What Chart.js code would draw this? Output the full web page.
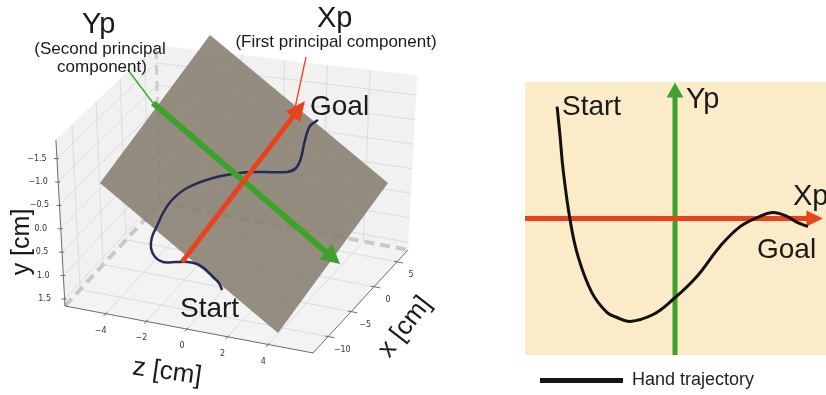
<!DOCTYPE html>
<html>
<head>
<meta charset="utf-8">
<script src="https://cdn.jsdelivr.net/npm/chart.js@4"></script>
<style>
  html, body { margin: 0; padding: 0; background: #ffffff; }
  #wrap { position: relative; width: 826px; height: 395px; }
  #wrap canvas { position: absolute; left: 0; top: 0; }
</style>
</head>
<body>
<div id="wrap">
  <canvas id="view3d" width="826" height="395"></canvas>
  <canvas id="plane2d" width="826" height="395"></canvas>
</div>
<script>
// ---- 3D box: ticks and limits (cm) ----
const zTicks = [-4, -2, 0, 2, 4];
const xTicks = [-10, -5, 0, 5];
const yTicks = [-1.5, -1.0, -0.5, 0.0, 0.5, 1.0, 1.5];
const zLimits = [-6, 6.2];
const xLimits = [-13.3, 7.4];
const yLimits = [-1.9, 1.65];

// ---- hand trajectory as seen in the 3D view (view units) ----
const trajViewX = [222, 219, 213, 205, 197, 188, 176, 163, 155, 151, 152, 157, 163, 172, 187, 213, 240, 263, 287, 296, 301, 305, 310, 318];
const trajViewY = [290, 283, 277, 269, 264, 262, 262, 262, 257, 248, 237, 226, 213, 200, 188, 178, 173, 172, 172, 168, 158, 140, 126, 120];

// fitted principal plane, corners in view units
const planeViewX = [210, 388, 278, 100];
const planeViewY = [35, 183, 333, 183];

// principal component arrows and their label leaders: [x0, y0, x1, y1]
const pc1Arrow = [182, 262, 305, 101];
const pc2Arrow = [153, 103, 340, 264];
const pc1Leader = [306, 57, 295, 108];
const pc2Leader = [128, 70, 153, 103];

// ---- hand trajectory in the principal plane (Xp, Yp) ----
const handXp = [-3.93, -3.83, -3.73, -3.5, -3.23, -2.77, -2.27, -1.93, -1.5, -0.73, -0.07, 0.73, 1.5, 2.17, 2.83, 3.27, 3.73, 4.07, 4.43];
const handYp = [3.73, 2.73, 1.63, -0.03, -1.27, -2.47, -3.13, -3.3, -3.43, -3.2, -2.7, -1.93, -0.93, -0.27, 0.07, 0.2, 0.07, -0.13, -0.27];
const xpLimits = [-5, 5.033];
const ypLimits = [-4.55, 4.55];
const xpArrowTip = 4.93;
const ypArrowTip = 4.53;

const FONT = '"Liberation Sans", Arial, sans-serif';
const RED = '#e8431f';
const GREEN = '#3ca22c';

// oblique view of the 3D box, with a little perspective on the verticals
const VIEW = { ox: 65, oy: 306, uz: [20.33, 3.85], vx: [4.59, -4.98], up: 46.8, lean: 0.015, leanC: 236, shrinkX: 0.05, growZ: 0.1 };
function proj(x, y, z) {
  const tz = (z - zLimits[0]) / (zLimits[1] - zLimits[0]);
  const tx = (x - xLimits[0]) / (xLimits[1] - xLimits[0]);
  const fx = VIEW.ox + (z - zLimits[0]) * VIEW.uz[0] + (x - xLimits[0]) * VIEW.vx[0];
  const fy = VIEW.oy + (z - zLimits[0]) * VIEW.uz[1] + (x - xLimits[0]) * VIEW.vx[1];
  const h = yLimits[1] - y;
  const d = 1 - VIEW.shrinkX * tx + VIEW.growZ * tz;
  return { x: fx + h * VIEW.lean * (fx - VIEW.leanC), y: fy - h * VIEW.up * d };
}

function seg(p, q, color, width, dash) {
  return { data: [p, q], borderColor: color, borderWidth: width, borderDash: dash || [], pointRadius: 0, fill: false, tension: 0 };
}
function poly(pts, color) {
  return { data: pts.concat([pts[0]]), borderColor: 'rgba(0,0,0,0)', borderWidth: 0, backgroundColor: color, fill: 'shape', pointRadius: 0, tension: 0 };
}
function arrowHead(x0, y0, x1, y1, len, half) {
  const dx = x1 - x0, dy = y1 - y0, L = Math.hypot(dx, dy), ux = dx / L, uy = dy / L;
  const bx = x1 - ux * len, by = y1 - uy * len;
  return [{ x: x1, y: y1 }, { x: bx - uy * half, y: by + ux * half }, { x: bx + uy * half, y: by - ux * half }];
}
function shaftEnd(x0, y0, x1, y1, back) {
  const dx = x1 - x0, dy = y1 - y0, L = Math.hypot(dx, dy);
  return { x: x1 - dx / L * back, y: y1 - dy / L * back };
}

// ---------- left: 3D view ----------
const [xMin, xMax] = xLimits, [zMin, zMax] = zLimits, [yTop, yFloor] = yLimits;
const A = proj(xMin, yFloor, zMin), B = proj(xMin, yFloor, zMax), C = proj(xMax, yFloor, zMax), D = proj(xMax, yFloor, zMin);
const At = proj(xMin, yTop, zMin), Ct = proj(xMax, yTop, zMax), Dt = proj(xMax, yTop, zMin);

const PANE = '#f1f1f1', GRID = '#dcdcdc', AXIS = '#6b6b6b';
const left = [];
left.push(poly([A, B, C, D], '#f3f3f3'));
left.push(poly([A, D, Dt, At], PANE));
left.push(poly([D, C, Ct, Dt], PANE));
zTicks.forEach(z => left.push(seg(proj(xMin, yFloor, z), proj(xMax, yFloor, z), GRID, 1)));
xTicks.forEach(x => left.push(seg(proj(x, yFloor, zMin), proj(x, yFloor, zMax), GRID, 1)));
yTicks.forEach(y => left.push(seg(proj(xMin, y, zMin), proj(xMax, y, zMin), GRID, 1)));
xTicks.forEach(x => left.push(seg(proj(x, yFloor, zMin), proj(x, yTop, zMin), GRID, 1)));
yTicks.forEach(y => left.push(seg(proj(xMax, y, zMin), proj(xMax, y, zMax), GRID, 1)));
zTicks.forEach(z => left.push(seg(proj(xMax, yFloor, z), proj(xMax, yTop, z), GRID, 1)));
// dashed reference lines along the back corner
left.push(seg(A, D, '#c9c9c9', 4, [10, 6]));
left.push(seg(D, C, '#c9c9c9', 4, [10, 6]));
left.push(seg(D, Dt, '#cdcdcd', 3, [10, 6]));
// axis lines and tick marks
left.push(seg(A, At, AXIS, 1));
left.push(seg(A, B, AXIS, 1));
left.push(seg(B, C, AXIS, 1));
yTicks.forEach(y => { const p = proj(xMin, y, zMin); left.push(seg({ x: p.x - 3, y: p.y }, { x: p.x + 2, y: p.y }, AXIS, 1)); });
zTicks.forEach(z => left.push(seg(proj(xMin - 0.5, yFloor, z), proj(xMin + 0.3, yFloor, z), AXIS, 1)));
xTicks.forEach(x => left.push(seg(proj(x, yFloor, zMax - 0.15), proj(x, yFloor, zMax + 0.3), AXIS, 1)));
// principal plane
left.push(poly(planeViewX.map((x, i) => ({ x, y: planeViewY[i] })), 'rgba(134,124,109,0.86)'));
// trajectory
left.push({ data: trajViewX.map((x, i) => ({ x, y: trajViewY[i] })), borderColor: '#262a55', borderWidth: 2.5, pointRadius: 0, fill: false, tension: 0.35 });
// leaders
left.push(seg({ x: pc2Leader[0], y: pc2Leader[1] }, { x: pc2Leader[2], y: pc2Leader[3] }, GREEN, 1.3));
left.push(seg({ x: pc1Leader[0], y: pc1Leader[1] }, { x: pc1Leader[2], y: pc1Leader[3] }, RED, 1.3));
// second component arrow
left.push(seg({ x: pc2Arrow[0], y: pc2Arrow[1] }, shaftEnd(...pc2Arrow, 12), GREEN, 6));
left.push(poly(arrowHead(...pc2Arrow, 19, 10), GREEN));
// first component arrow
left.push(seg({ x: pc1Arrow[0], y: pc1Arrow[1] }, shaftEnd(...pc1Arrow, 12), RED, 5));
left.push(poly(arrowHead(...pc1Arrow, 20, 9), RED));
left.forEach((d, i) => { d.order = -i; });

const viewText = {
  id: 'viewText',
  afterDraw(chart) {
    const ctx = chart.ctx;
    ctx.save();
    ctx.fillStyle = '#333';
    ctx.font = '8px "DejaVu Sans", sans-serif';
    ctx.textAlign = 'center';
    ctx.textBaseline = 'middle';
    yTicks.forEach(y => { const p = proj(xMin, y, zMin); ctx.fillText((y < 0 ? '\u2212' : '') + Math.abs(y).toFixed(1), p.x - 20, p.y); });
    zTicks.forEach(z => { const p = proj(xMin, yFloor, z); ctx.fillText((z < 0 ? '\u2212' : '') + Math.abs(z), p.x - 5, p.y + 17); });
    xTicks.forEach(x => { const p = proj(x, yFloor, zMax); ctx.fillText((x < 0 ? '\u2212' : '') + Math.abs(x), p.x + 14, p.y + 13); });

    ctx.fillStyle = '#1a1a1a';
    ctx.textBaseline = 'alphabetic';
    ctx.textAlign = 'left';
    ctx.font = '29px ' + FONT;
    ctx.fillText('Yp', 82, 33);
    ctx.fillText('Xp', 317, 27);
    ctx.font = '28px ' + FONT;
    ctx.fillText('Goal', 310, 115);
    ctx.fillText('Start', 180, 317);
    ctx.font = '17px ' + FONT;
    ctx.textAlign = 'center';
    ctx.fillText('(Second principal', 100, 54);
    ctx.fillText('component)', 102, 72);
    ctx.fillText('(First principal component)', 336, 47);

    ctx.font = '25px ' + FONT;
    ctx.textBaseline = 'middle';
    ctx.save(); ctx.translate(22, 242); ctx.rotate(-Math.PI / 2); ctx.fillText('y [cm]', 0, 0); ctx.restore();
    ctx.font = '26px ' + FONT;
    ctx.save(); ctx.translate(167, 372); ctx.rotate(8 * Math.PI / 180); ctx.fillText('z [cm]', 0, 0); ctx.restore();
    ctx.save(); ctx.translate(405, 327); ctx.rotate(-52 * Math.PI / 180); ctx.fillText('x [cm]', 0, 0); ctx.restore();
    ctx.restore();
  }
};

new Chart(document.getElementById('view3d'), {
  type: 'line',
  data: { datasets: left },
  options: {
    responsive: false, animation: false, devicePixelRatio: 1,
    layout: { padding: 0 },
    plugins: { legend: { display: false }, tooltip: { enabled: false } },
    scales: {
      x: { type: 'linear', min: 0, max: 826, display: false },
      y: { type: 'linear', min: 0, max: 395, reverse: true, display: false }
    }
  },
  plugins: [viewText]
});

// ---------- right: trajectory in the principal plane ----------
const right = [];
right.push(seg({ x: 0, y: ypLimits[0] }, { x: 0, y: ypArrowTip - 0.4 }, GREEN, 5));
right.push(poly(arrowHead(0, ypLimits[0], 0, ypArrowTip, 0.5, 0.28), GREEN));
right.push(seg({ x: xpLimits[0], y: 0 }, { x: xpArrowTip - 0.4, y: 0 }, RED, 5));
right.push(poly(arrowHead(xpLimits[0], 0, xpArrowTip, 0, 0.55, 0.27), RED));
right.push({ data: handXp.map((x, i) => ({ x, y: handYp[i] })), borderColor: '#111111', borderWidth: 3, pointRadius: 0, fill: false, tension: 0.4 });
right.forEach((d, i) => { d.order = -i; });

const planeDecor = {
  id: 'planeDecor',
  beforeDatasetsDraw(chart) {
    const { ctx, chartArea: a } = chart;
    ctx.save();
    ctx.fillStyle = '#fcebc8';
    ctx.fillRect(a.left, a.top, a.right - a.left, a.bottom - a.top);
    ctx.restore();
  },
  afterDraw(chart) {
    const ctx = chart.ctx;
    ctx.save();
    ctx.fillStyle = '#1a1a1a';
    ctx.textAlign = 'left';
    ctx.textBaseline = 'alphabetic';
    ctx.font = '28px ' + FONT;
    ctx.fillText('Start', 562, 115);
    ctx.fillText('Goal', 757, 258);
    ctx.font = '29px ' + FONT;
    ctx.fillText('Yp', 686, 108);
    ctx.fillText('Xp', 793, 205);
    // legend
    ctx.fillStyle = '#151515';
    ctx.fillRect(540, 378, 83, 5);
    ctx.fillStyle = '#222';
    ctx.font = '18px ' + FONT;
    ctx.textBaseline = 'middle';
    ctx.fillText('Hand trajectory', 632, 380);
    ctx.restore();
  }
};

new Chart(document.getElementById('plane2d'), {
  type: 'line',
  data: { datasets: right },
  options: {
    responsive: false, animation: false, devicePixelRatio: 1,
    layout: { padding: { left: 525, top: 82, right: 0, bottom: 40 } },
    plugins: { legend: { display: false }, tooltip: { enabled: false } },
    scales: {
      x: { type: 'linear', min: xpLimits[0], max: xpLimits[1], display: false },
      y: { type: 'linear', min: ypLimits[0], max: ypLimits[1], display: false }
    }
  },
  plugins: [planeDecor]
});
</script>
</body>
</html>
